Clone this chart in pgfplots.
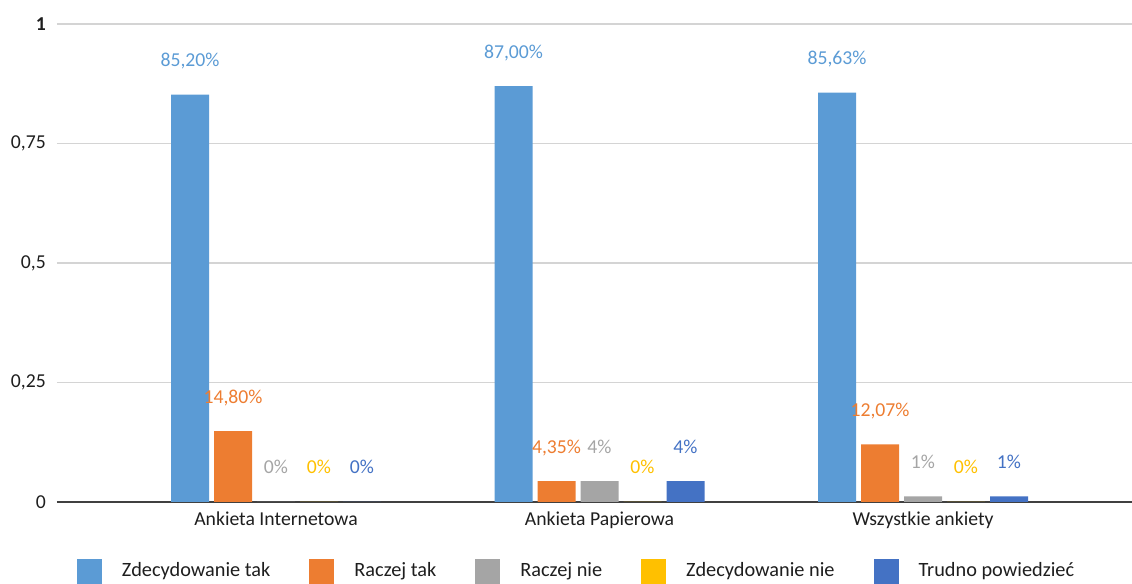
\documentclass[border=0pt]{standalone}
\usepackage{pgfplots}
\pgfplotsset{compat=1.18}
\usepackage{fontspec}
\setmainfont{Carlito}
\definecolor{c1}{HTML}{5B9BD5}
\definecolor{c2}{HTML}{ED7D31}
\definecolor{c3}{HTML}{A5A5A5}
\definecolor{c4}{HTML}{FFC000}
\definecolor{c5}{HTML}{4472C4}
\definecolor{txt}{HTML}{1E1E1E}
\begin{document}
\fontsize{19.7bp}{23bp}\selectfont
\begin{tikzpicture}
\begin{axis}[name=ax,
  scale only axis, width=1075bp, height=478bp,
  xmin=-0.677, xmax=2.646, ymin=0, ymax=1,
  ybar=5bp, bar width=38bp,
  axis x line*=bottom, axis y line*=left,
  y axis line style={draw=none},
  x axis line style={draw=black!75, line width=1.4bp},
  major tick length=0pt,
  ytick={0,0.25,0.5,0.75,1},
  yticklabels={0,{0,25},{0,5},{0,75},\textbf{1}},
  ymajorgrids, grid style={draw=black!17, line width=1.4bp},
  xtick={0,1,2},
  xticklabels={Ankieta Internetowa, Ankieta Papierowa, Wszystkie ankiety},
  tick label style={text=txt, font=\fontsize{19.7bp}{23bp}\selectfont},
  yticklabel style={inner sep=0pt, xshift=-11bp},
  xticklabel style={inner sep=0pt, yshift=-10bp},
  point meta=explicit symbolic,
  nodes near coords,
  every node near coord/.append style={anchor=base, yshift=28bp, inner sep=0pt, font=\fontsize{19.7bp}{23bp}\selectfont},
  legend columns=5,
  legend image code/.code={\draw[#1, draw=none] (0bp,-12.5bp) rectangle (25bp,12.5bp);},
  legend style={at={(rel axis cs:0.01860,-0.1454)}, anchor=west, draw=none, fill=none,
    inner sep=0pt, outer sep=0pt,
    nodes={inner sep=0pt, text=txt, text height=14.5bp, text depth=4.5bp, font=\fontsize{20.3bp}{24bp}\selectfont},
    /tikz/every odd column/.append style={column sep=20bp},
    /tikz/every even column/.append style={column sep=39bp}},
]
\addplot[fill=c1, draw=none, every node near coord/.append style={text=c1}]
  coordinates {(0,0.852) [85,20\%] (1,0.87) [87,00\%] (2,0.8563) [85,63\%]};
\addplot[fill=c2, draw=none, every node near coord/.append style={text=c2}]
  coordinates {(0,0.148) [14,80\%] (1,0.0435) [4,35\%] (2,0.1207) [12,07\%]};
\addplot[fill=c3, draw=none, every node near coord/.append style={text=c3}]
  coordinates {(0,0) [0\%] (1,0.0435) [4\%] (2,0.0115) [1\%]};
\addplot[fill=c4, draw=none, every node near coord/.append style={text=c4}]
  coordinates {(0,0) [0\%] (1,0) [0\%] (2,0) [0\%]};
\addplot[fill=c5, draw=none, every node near coord/.append style={text=c5}]
  coordinates {(0,0) [0\%] (1,0.0435) [4\%] (2,0.0115) [1\%]};
\legend{Zdecydowanie tak, Raczej tak, Raczej nie, Zdecydowanie nie, Trudno powiedzieć}
\end{axis}
\pgfresetboundingbox
\path ([xshift=-57bp,yshift=-82bp]ax.south west) rectangle ([yshift=24bp]ax.north east);
\end{tikzpicture}
\end{document}
